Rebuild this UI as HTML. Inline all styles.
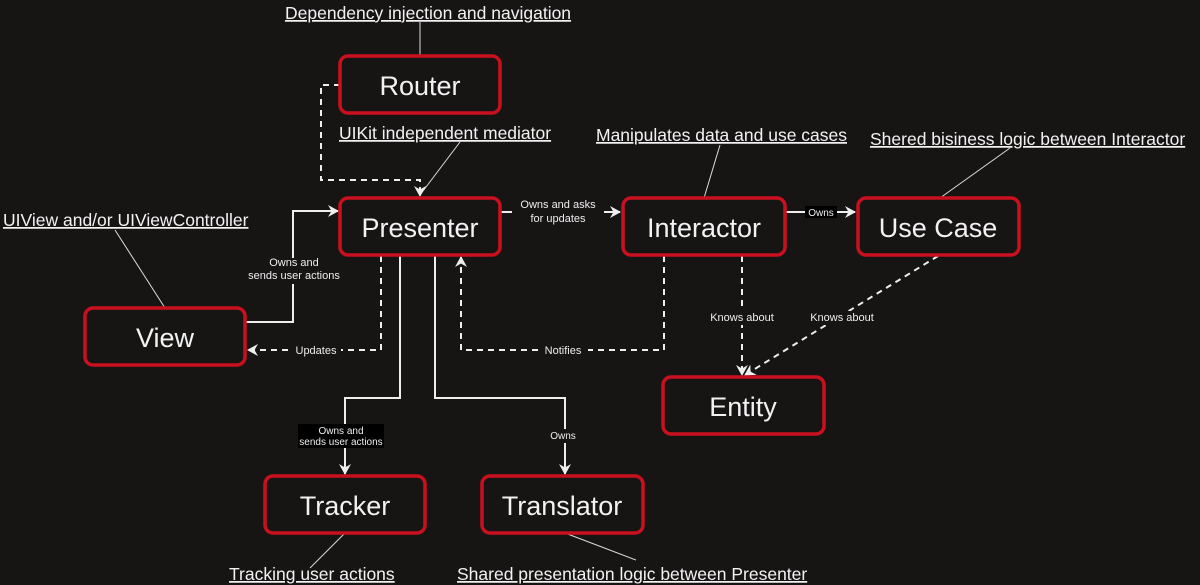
<!DOCTYPE html>
<html><head><meta charset="utf-8"><style>
html,body{margin:0;padding:0;background:#171414;}
svg{display:block;font-family:"Liberation Sans","DejaVu Sans",sans-serif;}
</style></head><body>
<svg width="1200" height="585" viewBox="0 0 1200 585" xmlns="http://www.w3.org/2000/svg">
<defs>
<marker id="a" markerWidth="12" markerHeight="12" refX="10" refY="6" orient="auto" markerUnits="userSpaceOnUse">
<path d="M0,0 L11,6 L0,12 L3.5,6 z" fill="#eee"/></marker>
</defs>
<rect width="1200" height="585" fill="#171414"/>
<g stroke="#ddd" stroke-width="1" fill="none">
<line x1="420" y1="22" x2="420" y2="56"/>
<line x1="460" y1="142" x2="420" y2="195"/>
<line x1="720" y1="145" x2="704" y2="198"/>
<line x1="1010" y1="148" x2="940" y2="198"/>
<line x1="115" y1="230" x2="165" y2="308"/>
<line x1="345" y1="533" x2="310" y2="568"/>
<line x1="565" y1="533" x2="636" y2="560"/>
</g>
<g stroke="#eee" stroke-width="2" fill="none">
<path d="M245,322 H293 V211 H338" marker-end="url(#a)"/>
<path d="M500,212 H620" marker-end="url(#a)"/>
<path d="M785,212 H855" marker-end="url(#a)"/>
<path d="M400,255 V398 H345 V474" />
<path d="M345,440 V474" marker-end="url(#a)"/>
<path d="M435,255 V398 H565 V474" marker-end="url(#a)"/>
</g>
<g stroke="#eee" stroke-width="2" fill="none" stroke-dasharray="6,5">
<path d="M340,85 H321 V180 H420 V196" marker-end="url(#a)"/>
<path d="M381,256 V350 H248" marker-end="url(#a)"/>
<path d="M664,256 V350 H461 V257" marker-end="url(#a)"/>
<path d="M742,256 V375" marker-end="url(#a)"/>
<path d="M938,256 L745,375" marker-end="url(#a)"/>
</g>
<g fill="#171414" stroke="#c8101e" stroke-width="3.5">
<rect x="340" y="56" width="160" height="57" rx="8"/>
<rect x="340" y="198" width="160" height="57" rx="8"/>
<rect x="623" y="198" width="162" height="57" rx="8"/>
<rect x="858" y="198" width="161" height="57" rx="8"/>
<rect x="85" y="308" width="160" height="57" rx="8"/>
<rect x="663" y="377" width="161" height="57" rx="8"/>
<rect x="265" y="476" width="160" height="57" rx="8"/>
<rect x="482" y="476" width="161" height="57" rx="8"/>
</g>
<g fill="#f2f2f2" font-size="27" text-anchor="middle">
<text x="420" y="95">Router</text>
<text x="420" y="237">Presenter</text>
<text x="704" y="237">Interactor</text>
<text x="938" y="237">Use Case</text>
<text x="165" y="347">View</text>
<text x="743" y="416">Entity</text>
<text x="345" y="515">Tracker</text>
<text x="562" y="515">Translator</text>
</g>
<g fill="#f2f2f2" font-size="17.5" text-decoration="underline">
<text x="285" y="19">Dependency injection and navigation</text>
<text x="339" y="139">UIKit independent mediator</text>
<text x="596" y="141">Manipulates data and use cases</text>
<text x="870" y="145">Shered bisiness logic between Interactor</text>
<text x="3" y="226">UIView and/or UIViewController</text>
<text x="229" y="580">Tracking user actions</text>
<text x="457" y="580">Shared presentation logic between Presenter</text>
</g>
<g fill="#eee" font-size="11" text-anchor="middle">
<rect x="262" y="258" width="64" height="26" fill="#171414"/>
<text x="294" y="266">Owns and</text>
<text x="294" y="279">sends user actions</text>
<rect x="512" y="200" width="92" height="26" fill="#171414"/>
<text x="558" y="208">Owns and asks</text>
<text x="558" y="222">for updates</text>
<rect x="291" y="343" width="50" height="14" fill="#171414"/>
<text x="316" y="354">Updates</text>
<rect x="538" y="343" width="50" height="14" fill="#171414"/>
<text x="563" y="354">Notifies</text>
<rect x="805" y="206" width="32" height="12" fill="#000"/>
<text x="821" y="216" font-size="10">Owns</text>
<rect x="705" y="311" width="75" height="14" fill="#171414"/>
<text x="742" y="321">Knows about</text>
<rect x="805" y="311" width="75" height="14" fill="#171414"/>
<text x="842" y="321">Knows about</text>
<rect x="298" y="424" width="86" height="24" fill="#000"/>
<text x="341" y="434" font-size="10">Owns and</text>
<text x="341" y="445" font-size="10">sends user actions</text>
<rect x="548" y="429" width="30" height="14" fill="#171414"/>
<text x="563" y="439" font-size="10">Owns</text>
</g>
</svg>
</body></html>
